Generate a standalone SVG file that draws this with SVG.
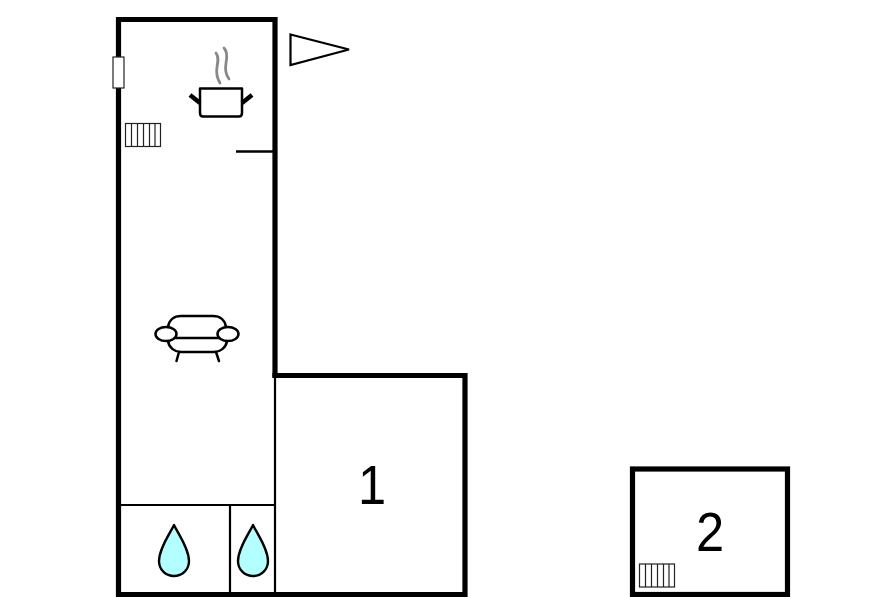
<svg xmlns="http://www.w3.org/2000/svg" width="896" height="597" viewBox="0 0 896 597">
<style>
.wall{fill:none;stroke:#000;stroke-width:5.200;stroke-linecap:square;stroke-linejoin:miter}
.thin{fill:none;stroke:#000;stroke-width:2.200}
.ln{fill:none;stroke:#000;stroke-width:2.500;stroke-linecap:round;stroke-linejoin:round}
.rad{fill:#fff;stroke:#222;stroke-width:1.200}
.drop{fill:#b3ffff;stroke:#000;stroke-width:2.400;stroke-linejoin:round}
.num{font-family:"Liberation Sans",Arial,sans-serif;font-size:55px;fill:#000;text-anchor:middle}
</style>
<defs>
<g id="radiator"><rect class="rad" x="0" y="0" width="35" height="23"/><path class="rad" d="M6 0V23M12 0V23M18 0V23M24 0V23M29.500 0V23"/></g>
<path id="droplet" class="drop" d="M0 0C-3 7-15 23-15 36C-15 45-8 51 0 51C8 51 15 45 15 36C15 23 3 7 0 0Z"/>
</defs>
<rect width="896" height="597" fill="#fff"/>
<g id="connectors"/>
<g id="room-main">
<path class="wall" d="M275 375V19.500H118.500V594.500H275"/>
<path class="thin" d="M275 375V594M120 505H275M230 505V594"/>
<path d="M236 151.500H274" fill="none" stroke="#000" stroke-width="2.500"/>
</g>
<g id="room-1">
<path class="wall" d="M275 375.500H465V594.500H275"/>
<text class="num" transform="translate(372 504) scale(.92 1)">1</text>
</g>
<g id="room-2">
<rect class="wall" x="632.500" y="469" width="155" height="125.500"/>
<text class="num" transform="translate(710 551) scale(.92 1)">2</text>
<use href="#radiator" x="639.500" y="564"/>
</g>
<g id="north-arrow"><path d="M290.500 34.500L349 49.500L290.500 65Z" fill="#fff" stroke="#000" stroke-width="2.200" stroke-linejoin="miter" stroke-miterlimit="3"/></g>
<g id="door"><rect x="113" y="57" width="11" height="31" fill="#fff" stroke="#222" stroke-width="1.200"/></g>
<g id="radiator-main"><use href="#radiator" x="125.500" y="123.500"/></g>
<g id="pot">
<path d="M216 53C219 57 218 62 217 67C216 73 217 78 220 83M224 48C228 52 227 58 226 63C225 69 226 75 229 79" fill="none" stroke="#888" stroke-width="2.800" stroke-linecap="round"/>
<path class="ln" d="M200 88.500H242V113C242 115.500 241 116.500 239 116.500H203C201 116.500 200 115.500 200 113Z"/>
<path d="M190 95L200 103M252 95L242 103" fill="none" stroke="#000" stroke-width="4.500"/>
</g>
<g id="sofa">
<path class="ln" d="M168 327C169 320 174 316 181 316H213C220 316 225 320 226 327"/>
<path class="ln" d="M176 338H219M168 341C169 348 175 352 181 352H214C220 352 226 348 227 341"/>
<ellipse class="ln" cx="166" cy="334" rx="10.500" ry="7" fill="#fff"/>
<ellipse class="ln" cx="228" cy="334" rx="10.500" ry="7" fill="#fff"/>
<path class="ln" d="M179 352L176.500 361M216 352L219 361"/>
</g>
<g id="bath-1"><use href="#droplet" x="174" y="525"/></g>
<g id="bath-2"><use href="#droplet" x="253" y="525"/></g>
</svg>
